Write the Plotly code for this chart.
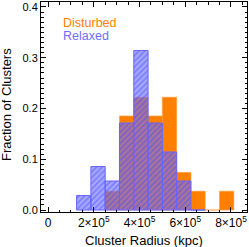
import plotly.graph_objects as go

# Bin edges (kpc), bin width 62500
bin_width = 62500
relaxed_left_edges = [125000, 187500, 250000, 312500, 375000, 437500, 500000, 562500, 625000]
relaxed_counts = [1, 3, 2, 6, 11, 6, 4, 2, 0]
relaxed_total = 35

disturbed_left_edges = [250000, 312500, 375000, 437500, 500000, 562500, 625000, 687500, 750000]
disturbed_counts = [1, 5, 6, 5, 6, 2, 1, 0, 1]
disturbed_total = 27

x_tickvals = [0, 200000, 400000, 600000, 800000]
x_ticktext = ["0", "2×10<sup>5</sup>", "4×10<sup>5</sup>", "6×10<sup>5</sup>", "8×10<sup>5</sup>"]
y_tickvals = [0.0, 0.1, 0.2, 0.3, 0.4]
y_ticktext = ["0.0", "0.1", "0.2", "0.3", "0.4"]

rel_x = [e + bin_width / 2 for e in relaxed_left_edges]
rel_y = [c / relaxed_total for c in relaxed_counts]
dis_x = [e + bin_width / 2 for e in disturbed_left_edges]
dis_y = [c / disturbed_total for c in disturbed_counts]

FONT = "Liberation Sans, Arial, sans-serif"

fig = go.Figure()
fig.add_trace(go.Bar(
    x=dis_x, y=dis_y, width=bin_width,
    marker=dict(color="#FF8000", line=dict(color="#FF9a33", width=0.6)),
    name="Disturbed", showlegend=False, hoverinfo="skip",
))
fig.add_trace(go.Bar(
    x=rel_x, y=rel_y, width=bin_width,
    marker=dict(
        color="rgba(110,110,255,0.6)",
        line=dict(color="#6464FF", width=1),
        pattern=dict(shape="/", fgcolor="rgba(70,70,255,0.9)", size=4,
                     solidity=0.45, fillmode="overlay"),
    ),
    name="Relaxed", showlegend=False, hoverinfo="skip",
))

fig.update_layout(
    width=249, height=247,
    margin=dict(l=41, r=2, t=2, b=35, autoexpand=False),
    paper_bgcolor="white", plot_bgcolor="white",
    barmode="overlay", bargap=0,
    font=dict(family=FONT, size=11, color="black"),
    showlegend=False,
)
fig.update_xaxes(
    range=[-30600, 870000], automargin=False, ticklabeloverflow="allow",
    tickmode="array", tickvals=x_tickvals, ticktext=x_ticktext,
    ticks="inside", ticklen=5, tickwidth=1, tickcolor="black",
    minor=dict(dtick=50000, ticks="inside", ticklen=2.5, tickcolor="black", tick0=0),
    showline=True, linecolor="black", linewidth=1, mirror="ticks",
    showgrid=False, zeroline=False,
    tickfont=dict(size=12),
)
fig.update_yaxes(
    range=[-0.0039, 0.4098], automargin=False, ticklabeloverflow="allow",
    tickmode="array", tickvals=y_tickvals, ticktext=y_ticktext,
    ticks="inside", ticklen=5, tickwidth=1, tickcolor="black",
    minor=dict(dtick=0.01, ticks="inside", ticklen=2.5, tickcolor="black", tick0=0),
    showline=True, linecolor="black", linewidth=1, mirror="ticks",
    showgrid=False, zeroline=False,
    tickfont=dict(size=11),
)

fig.add_annotation(text="Disturbed", xref="paper", yref="paper",
                   x=(61 - 41) / 205, y=1 - (23.5 - 2) / 210,
                   xanchor="left", yanchor="middle", showarrow=False,
                   font=dict(size=12.5, color="#FF8000", family=FONT))
fig.add_annotation(text="Relaxed", xref="paper", yref="paper",
                   x=(61 - 41) / 206, y=1 - (36.5 - 2) / 210,
                   xanchor="left", yanchor="middle", showarrow=False,
                   font=dict(size=12.5, color="#6E6EFF", family=FONT))
fig.add_annotation(text="Cluster Radius (kpc)", xref="paper", yref="paper",
                   x=(144 - 41) / 206, y=-(240 - 212) / 210,
                   xanchor="center", yanchor="middle", showarrow=False,
                   font=dict(size=13, family=FONT))
fig.add_annotation(text="Fraction of Clusters", xref="paper", yref="paper",
                   x=(6 - 41) / 206, y=1 - (105 - 2) / 210, textangle=-90,
                   xanchor="center", yanchor="middle", showarrow=False,
                   font=dict(size=13, family=FONT))

fig.write_html("out.html", config={"displayModeBar": False, "staticPlot": True},
               post_script="document.body.style.margin='0px';document.body.style.overflow='hidden';")
